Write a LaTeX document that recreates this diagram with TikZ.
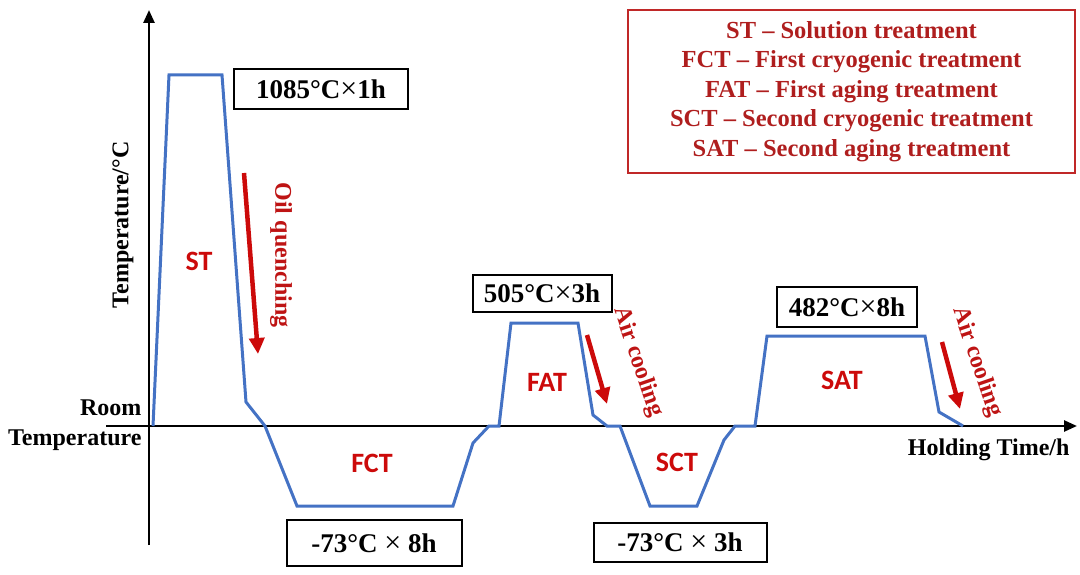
\documentclass[tikz,border=0pt]{standalone}
\usepackage{fontspec}
\setmainfont{Liberation Serif}
\newfontfamily\lblfont{Carlito}
\usetikzlibrary{arrows.meta}
\definecolor{curveblue}{RGB}{68,114,196}
\definecolor{arrred}{RGB}{204,10,10}
\definecolor{txtred}{RGB}{190,20,20}
\definecolor{legred}{RGB}{175,30,30}
\definecolor{legborder}{RGB}{192,40,40}
\newcommand{\tms}{{\mdseries\fontsize{30}{30}\selectfont ×}}
\tikzset{
  axisline/.style={line width=2.6pt,-{Triangle[length=13pt,width=11pt]}},
  curve/.style={curveblue,line width=3pt,line join=miter},
  redarrow/.style={arrred,line width=4.5pt,-{Triangle[length=16pt,width=15pt]}},
  valbox/.style={draw,line width=2pt,inner sep=0pt,font=\fontsize{27}{30}\selectfont\bfseries},
  stagelbl/.style={text=arrred,font=\lblfont\fontsize{28}{30}\selectfont\bfseries},
  proclbl/.style={text=txtred,font=\fontsize{24}{26}\selectfont\bfseries},
  axlbl/.style={font=\fontsize{24}{26}\selectfont\bfseries},
  legbox/.style={draw=legborder,line width=2.5pt,inner sep=0pt,text=legred,align=center,
    font=\fontsize{24.5}{29.5}\selectfont\bfseries}
}
\begin{document}
\begin{tikzpicture}[x=1pt,y=-1pt]
\useasboundingbox (0,0) rectangle (1080,575);
% axes
\coordinate (ybot) at (149,545);
\coordinate (ytop) at (149,10);
\coordinate (xleft) at (106,426);
\coordinate (xright) at (1077,426);
\draw[axisline] (ybot) -- (ytop);
\draw[axisline] (xleft) -- (xright);
% curve
\draw[curve] (153,426) -- (169,75) -- (222,75) -- (246,402) -- (265,426) -- (297,506)
  -- (453,506) -- (473,443) -- (489,426) -- (499,426) -- (511,323) -- (578,323)
  -- (593,415) -- (607,426) -- (620,426) -- (650,506) -- (697,506) -- (724,440)
  -- (735,426) -- (755,426) -- (767,336) -- (925,336) -- (939,412) -- (963,426);
% red arrows
\coordinate (oilA) at (244,173);
\coordinate (oilB) at (258,354);
\draw[redarrow] (oilA) -- (oilB);
\coordinate (fatA) at (587,335);
\coordinate (fatB) at (607,404);
\draw[redarrow] (fatA) -- (fatB);
\coordinate (satA) at (942,342);
\coordinate (satB) at (960,409);
\draw[redarrow] (satA) -- (satB);
% process labels
\node[proclbl,rotate=-90] (oil) at (281,255) {Oil quenching};
\node[proclbl,rotate=-71] (air1) at (638,362) {Air cooling};
\node[proclbl,rotate=-71] (air2) at (977,362) {Air cooling};
% stage labels
\node[stagelbl] (st) at (199,261) {ST};
\node[stagelbl] (fct) at (372,463) {FCT};
\node[stagelbl] (fat) at (547,382) {FAT};
\node[stagelbl] (sct) at (677,462) {SCT};
\node[stagelbl] (sat) at (842,380) {SAT};
% value boxes
\node[valbox,minimum width=174pt,minimum height=40pt] (b1) at (321,89) {1085°C\tms1h};
\node[valbox,minimum width=139pt,minimum height=37pt] (b2) at (542,293) {505°C\tms3h};
\node[valbox,minimum width=140pt,minimum height=40pt] (b3) at (847,307) {482°C\tms8h};
\node[valbox,minimum width=175pt,minimum height=46pt] (b4) at (374,543) {-73°C \tms\ 8h};
\node[valbox,minimum width=173pt,minimum height=39pt] (b5) at (680,542) {-73°C \tms\ 3h};
% axis labels
\node[axlbl,rotate=90] (ylab) at (123,225) {Temperature/°C};
\node[axlbl,anchor=east] (room) at (145,408) {Room};
\node[axlbl,anchor=east] (rt) at (145,440) {Temperature};
\node[axlbl,anchor=east] (xlab) at (1073,450) {Holding Time/h};
% legend
\node[legbox,minimum width=447pt,minimum height=163pt] (leg) at (851.5,91.5)
  {ST – Solution treatment\\FCT – First cryogenic treatment\\FAT – First aging treatment\\SCT – Second cryogenic treatment\\SAT – Second aging treatment};
\end{tikzpicture}
\end{document}
